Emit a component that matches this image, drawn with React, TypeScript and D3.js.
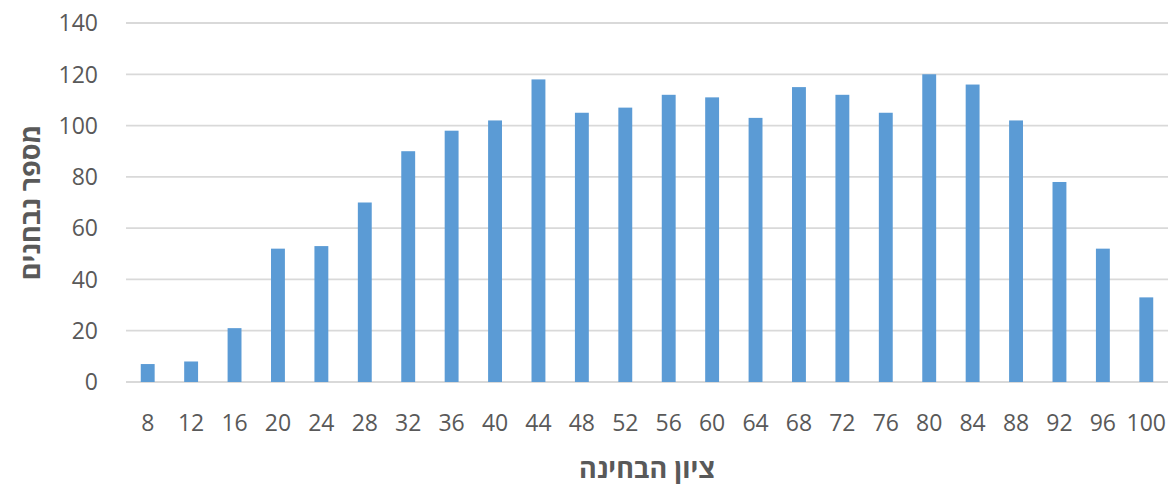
import { useMemo } from 'react';
import * as d3 from 'd3';

const SCORES = [8, 12, 16, 20, 24, 28, 32, 36, 40, 44, 48, 52, 56, 60, 64, 68, 72, 76, 80, 84, 88, 92, 96, 100];
const COUNTS = [7, 8, 21, 52, 53, 70, 90, 98, 102, 118, 105, 107, 112, 111, 103, 115, 112, 105, 120, 116, 102, 78, 52, 33];
const Y_TICKS = [0, 20, 40, 60, 80, 100, 120, 140];
const X_TITLE = 'ציון הבחינה';
const Y_TITLE = 'מספר נבחנים';

const W = 1173;
const H = 485;
const M = { top: 23, right: 5, bottom: 103, left: 126 };

const FONT = '"Open Sans", "Noto Sans", sans-serif';
const TEXT_COLOR = '#595959';
const BAR_COLOR = '#5B9BD5';
const GRID_COLOR = '#D9D9D9';

export default function App() {
  const x = useMemo(
    () =>
      d3
        .scaleBand<number>()
        .domain(SCORES)
        .range([M.left, W - M.right])
        .paddingInner(0.68)
        .paddingOuter(0.34),
    [],
  );
  const y = useMemo(
    () => d3.scaleLinear().domain([0, 140]).range([H - M.bottom, M.top]),
    [],
  );

  return (
    <svg
      width={W}
      height={H}
      style={{ position: 'absolute', left: 0, top: 0, background: '#fff' }}
    >
      {Y_TICKS.map((t) => (
        <g key={t}>
          <line
            x1={M.left}
            x2={W - M.right}
            y1={y(t)}
            y2={y(t)}
            stroke={GRID_COLOR}
            strokeWidth={1.8}
          />
          <text
            x={98}
            y={y(t)}
            dy="0.36em"
            textAnchor="end"
            fontFamily={FONT}
            fontSize={23}
            fill={TEXT_COLOR}
          >
            {t}
          </text>
        </g>
      ))}

      {SCORES.map((s, i) => (
        <rect
          key={s}
          x={x(s)}
          y={y(COUNTS[i])}
          width={x.bandwidth()}
          height={y(0) - y(COUNTS[i])}
          fill={BAR_COLOR}
        />
      ))}

      {SCORES.map((s) => (
        <text
          key={s}
          x={(x(s) ?? 0) + x.bandwidth() / 2}
          y={423}
          dy="0.36em"
          textAnchor="middle"
          fontFamily={FONT}
          fontSize={23}
          fill={TEXT_COLOR}
        >
          {s}
        </text>
      ))}

      <text
        x={(M.left + W - M.right) / 2}
        y={468}
        dy="0.36em"
        textAnchor="middle"
        direction="rtl"
        fontFamily={FONT}
        fontSize={27}
        fontWeight="bold"
        fill={TEXT_COLOR}
      >
        {X_TITLE}
      </text>
      <text
        transform={`translate(30, ${(M.top + H - M.bottom) / 2}) rotate(-90)`}
        dy="0.36em"
        textAnchor="middle"
        direction="rtl"
        fontFamily={FONT}
        fontSize={27}
        fontWeight="bold"
        fill={TEXT_COLOR}
      >
        {Y_TITLE}
      </text>
    </svg>
  );
}
